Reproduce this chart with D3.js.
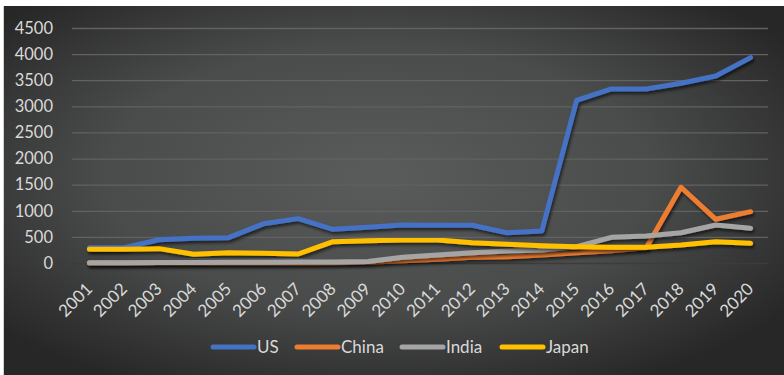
<!DOCTYPE html>
<html>
<head>
<meta charset="utf-8">
<script src="https://cdn.jsdelivr.net/npm/d3@7"></script>
<style>
  body { margin: 0; background: #ffffff; }
  svg { display: block; }
</style>
</head>
<body>
<script>
// data
const years = ["2001","2002","2003","2004","2005","2006","2007","2008","2009","2010",
               "2011","2012","2013","2014","2015","2016","2017","2018","2019","2020"];
const usVals    = [293, 293, 445, 473, 485, 750, 850, 645, 684, 728, 722, 722, 580, 612, 3115, 3333, 3333, 3442, 3582, 3933];
const chinaVals = [0, 0, 0, 0, 0, 0, 0, 5, 15, 44, 70, 109, 120, 153, 198, 236, 293, 1450, 837, 983];
const indiaVals = [5, 5, 8, 10, 12, 15, 18, 20, 30, 109, 153, 197, 230, 249, 313, 492, 517, 580, 728, 665];
const japanVals = [262, 262, 275, 167, 197, 185, 172, 408, 427, 440, 440, 389, 358, 332, 313, 300, 300, 345, 408, 377];
const yTicks = [0, 500, 1000, 1500, 2000, 2500, 3000, 3500, 4000, 4500];

const series = [
  { name: "US",    values: usVals,    color: "#4472C4" },
  { name: "China", values: chinaVals, color: "#ED7D31" },
  { name: "India", values: indiaVals, color: "#A5A5A5" },
  { name: "Japan", values: japanVals, color: "#FFC000" }
];

const width = 784, height = 375;
const plot = { left: 72, right: 768, top: 28, bottom: 263 };
const fontFam = "Lato, 'Open Sans', sans-serif";
const textColor = "#d9d9d9";

const svg = d3.select("body").append("svg")
  .attr("width", width)
  .attr("height", height);

const defs = svg.append("defs");
const grad = defs.append("radialGradient")
  .attr("id", "bg")
  .attr("cx", "48%").attr("cy", "46%").attr("r", "64%");
grad.append("stop").attr("offset", "0%").attr("stop-color", "#5a5c5b");
grad.append("stop").attr("offset", "55%").attr("stop-color", "#4a4c4b");
grad.append("stop").attr("offset", "100%").attr("stop-color", "#272727");

const shadow = defs.append("filter").attr("id", "shadow")
  .attr("x", "-5%").attr("y", "-10%").attr("width", "110%").attr("height", "130%");
shadow.append("feDropShadow")
  .attr("dx", 1.5).attr("dy", 2.5)
  .attr("stdDeviation", 1.6)
  .attr("flood-color", "#000").attr("flood-opacity", 0.6);

// chart area background
svg.append("rect")
  .attr("x", 4).attr("y", 6)
  .attr("width", width - 4).attr("height", height - 6)
  .attr("fill", "url(#bg)");
svg.append("line")
  .attr("x1", 3.5).attr("x2", 3.5).attr("y1", 6).attr("y2", height)
  .attr("stroke", "#d0d0d0").attr("stroke-width", 1);

// scales
const x = d3.scaleBand()
  .domain(years)
  .range([plot.left, plot.right]);
const y = d3.scaleLinear()
  .domain([0, 4500])
  .range([plot.bottom, plot.top]);

// gridlines
const yAxis = d3.axisLeft(y)
  .tickValues(yTicks)
  .tickFormat(d3.format("d"))
  .tickSize(-(plot.right - plot.left))
  .tickPadding(19);
const gy = svg.append("g")
  .attr("transform", "translate(" + plot.left + ",0)")
  .call(yAxis);
gy.select(".domain").remove();
gy.selectAll(".tick line")
  .attr("stroke", d => d === 0 ? "#3c3c3c" : "#616261")
  .attr("stroke-width", 1.3);
gy.selectAll(".tick text")
  .attr("fill", textColor)
  .style("font-family", fontFam)
  .style("font-size", "16.5px");

// x labels, rotated
svg.append("g").selectAll("text")
  .data(years)
  .enter()
  .append("text")
  .attr("transform", d => "translate(" + (x(d) + x.bandwidth() / 2 + 4) + ",290) rotate(-45)")
  .attr("text-anchor", "end")
  .attr("fill", textColor)
  .style("font-family", fontFam)
  .style("font-size", "17px")
  .text(d => d);

// lines
const line = d3.line()
  .x((d, i) => x(years[i]) + x.bandwidth() / 2)
  .y(d => y(d));

svg.append("g").selectAll("path")
  .data(series)
  .enter()
  .append("path")
  .attr("d", d => line(d.values))
  .attr("fill", "none")
  .attr("stroke", d => d.color)
  .attr("stroke-width", 5)
  .attr("stroke-linejoin", "round")
  .attr("stroke-linecap", "round")
  .attr("filter", "url(#shadow)");

// legend
const legendX = [213, 297, 402, 502];
const legend = svg.append("g").selectAll("g")
  .data(series)
  .enter()
  .append("g")
  .attr("transform", (d, i) => "translate(" + legendX[i] + ",347)");
legend.append("line")
  .attr("x1", 0).attr("x2", 41)
  .attr("stroke", d => d.color)
  .attr("stroke-width", 5)
  .attr("stroke-linecap", "round");
legend.append("text")
  .attr("x", 44)
  .attr("dy", "0.35em")
  .attr("fill", textColor)
  .style("font-family", fontFam)
  .style("font-size", "17px")
  .text(d => d.name);
</script>
</body>
</html>
